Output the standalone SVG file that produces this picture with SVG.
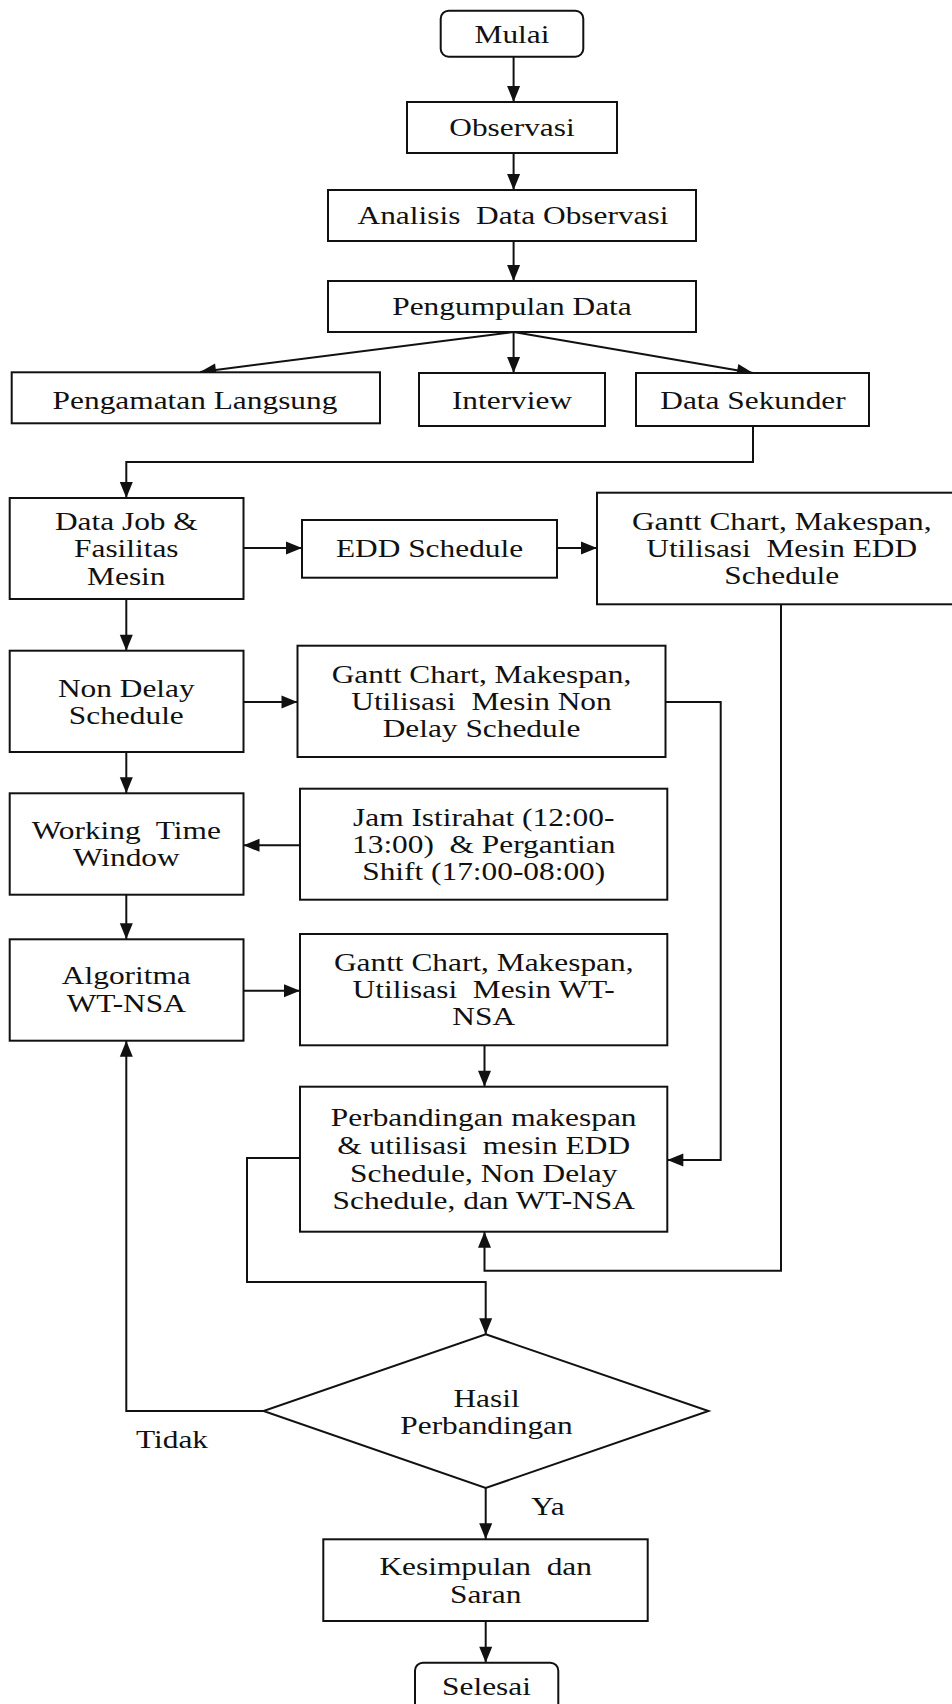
<svg xmlns="http://www.w3.org/2000/svg" width="952" height="1704" viewBox="0 0 952 1704">
<defs>
<style>
.b{fill:#fff;stroke:#111;stroke-width:2}
.c{fill:none;stroke:#111;stroke-width:2}
.t{font-family:"Liberation Serif","Times New Roman",serif;font-size:25.5px;fill:#111;text-anchor:middle;white-space:pre}
</style>
<marker id="a" markerUnits="userSpaceOnUse" markerWidth="18" markerHeight="16" viewBox="0 0 18 16" refX="17" refY="8" orient="auto">
<path d="M1,1.5 L17,8 L1,14.5 Z" fill="#111"/>
</marker>
</defs>
<rect width="952" height="1704" fill="#fff"/>

<g id="connectors">
<path class="c" d="M513.6,56.7 V102" marker-end="url(#a)"/>
<path class="c" d="M513.6,153 V190" marker-end="url(#a)"/>
<path class="c" d="M513.6,241 V281" marker-end="url(#a)"/>
<path class="c" d="M513.6,332 L200,372" marker-end="url(#a)"/>
<path class="c" d="M513.6,332 V373" marker-end="url(#a)"/>
<path class="c" d="M513.6,332 L753,373" marker-end="url(#a)"/>
<path class="c" d="M753,426 V462 H126.3 V498" marker-end="url(#a)"/>
<path class="c" d="M243.5,548 H302" marker-end="url(#a)"/>
<path class="c" d="M557,548 H597" marker-end="url(#a)"/>
<path class="c" d="M126.3,599 V650.7" marker-end="url(#a)"/>
<path class="c" d="M243.5,702 H297.5" marker-end="url(#a)"/>
<path class="c" d="M665.5,702 H720.7 V1160 H667.3" marker-end="url(#a)"/>
<path class="c" d="M126.3,752 V793.3" marker-end="url(#a)"/>
<path class="c" d="M300,845.3 H243.5" marker-end="url(#a)"/>
<path class="c" d="M126.3,894.7 V939.3" marker-end="url(#a)"/>
<path class="c" d="M243.5,990.7 H300" marker-end="url(#a)"/>
<path class="c" d="M484.5,1045.3 V1086.7" marker-end="url(#a)"/>
<path class="c" d="M781,604.3 V1270.7 H484.5 V1231.7" marker-end="url(#a)"/>
<path class="c" d="M300,1158 H247 V1282 H485.7 V1334.3" marker-end="url(#a)"/>
<path class="c" d="M263.5,1411 H126.3 V1040.7" marker-end="url(#a)"/>
<path class="c" d="M485.7,1488 V1539.3" marker-end="url(#a)"/>
<path class="c" d="M485.7,1621 V1662.7" marker-end="url(#a)"/>
<text class="t" transform="translate(172,1448) scale(1.23,1)">Tidak</text>
<text class="t" transform="translate(548,1515) scale(1.23,1)">Ya</text>
</g>

<g id="mulai">
<rect class="b" x="440.7" y="10.7" width="142.6" height="46" rx="8"/>
<text class="t" transform="translate(512,42.7) scale(1.23,1)">Mulai</text>
</g>
<g id="observasi">
<rect class="b" x="407" y="102" width="210" height="51"/>
<text class="t" transform="translate(512,135.5) scale(1.23,1)">Observasi</text>
</g>
<g id="analisis">
<rect class="b" x="328" y="190" width="368" height="51"/>
<text class="t" transform="translate(513,223.5) scale(1.23,1)">Analisis  Data Observasi</text>
</g>
<g id="pengumpulan">
<rect class="b" x="328" y="281" width="368" height="51"/>
<text class="t" transform="translate(512,314.5) scale(1.23,1)">Pengumpulan Data</text>
</g>
<g id="pengamatan">
<rect class="b" x="11.7" y="372.3" width="368.3" height="51"/>
<text class="t" transform="translate(195,408.5) scale(1.23,1)">Pengamatan Langsung</text>
</g>
<g id="interview">
<rect class="b" x="419" y="373" width="186" height="53"/>
<text class="t" transform="translate(512,408.5) scale(1.23,1)">Interview</text>
</g>
<g id="data-sekunder">
<rect class="b" x="636" y="373" width="233" height="53"/>
<text class="t" transform="translate(753,408.5) scale(1.23,1)">Data Sekunder</text>
</g>
<g id="data-job">
<rect class="b" x="9.7" y="498" width="233.8" height="101"/>
<text class="t" transform="translate(126.3,530) scale(1.23,1)"><tspan x="0">Data Job &amp;</tspan><tspan x="0" dy="27.5">Fasilitas</tspan><tspan x="0" dy="27.5">Mesin</tspan></text>
</g>
<g id="edd">
<rect class="b" x="302" y="520" width="255" height="57.7"/>
<text class="t" transform="translate(429.5,557.3) scale(1.23,1)">EDD Schedule</text>
</g>
<g id="gantt-edd">
<rect class="b" x="597" y="492.7" width="369" height="111.6"/>
<text class="t" transform="translate(781.7,530) scale(1.23,1)"><tspan x="0">Gantt Chart, Makespan,</tspan><tspan x="0" dy="27">Utilisasi  Mesin EDD</tspan><tspan x="0" dy="27">Schedule</tspan></text>
</g>
<g id="non-delay">
<rect class="b" x="9.7" y="650.7" width="233.8" height="101.3"/>
<text class="t" transform="translate(126.3,696.5) scale(1.23,1)"><tspan x="0">Non Delay</tspan><tspan x="0" dy="27.5">Schedule</tspan></text>
</g>
<g id="gantt-nd">
<rect class="b" x="297.5" y="645.7" width="368" height="111.3"/>
<text class="t" transform="translate(481.5,682.7) scale(1.23,1)"><tspan x="0">Gantt Chart, Makespan,</tspan><tspan x="0" dy="27">Utilisasi  Mesin Non</tspan><tspan x="0" dy="27">Delay Schedule</tspan></text>
</g>
<g id="wtw">
<rect class="b" x="9.7" y="793.3" width="233.8" height="101.4"/>
<text class="t" transform="translate(126.3,838.5) scale(1.23,1)"><tspan x="0">Working  Time</tspan><tspan x="0" dy="28">Window</tspan></text>
</g>
<g id="jam">
<rect class="b" x="300" y="788.7" width="367.3" height="111"/>
<text class="t" transform="translate(483.7,825.5) scale(1.23,1)"><tspan x="0">Jam Istirahat (12:00-</tspan><tspan x="0" dy="27.5">13:00)  &amp; Pergantian</tspan><tspan x="0" dy="27.5">Shift (17:00-08:00)</tspan></text>
</g>
<g id="algoritma">
<rect class="b" x="9.7" y="939.3" width="233.8" height="101.4"/>
<text class="t" transform="translate(126.3,984) scale(1.23,1)"><tspan x="0">Algoritma</tspan><tspan x="0" dy="28">WT-NSA</tspan></text>
</g>
<g id="gantt-wt">
<rect class="b" x="300" y="934" width="367.3" height="111.3"/>
<text class="t" transform="translate(483.7,970.5) scale(1.23,1)"><tspan x="0">Gantt Chart, Makespan,</tspan><tspan x="0" dy="27.5">Utilisasi  Mesin WT-</tspan><tspan x="0" dy="27">NSA</tspan></text>
</g>
<g id="perbandingan">
<rect class="b" x="300" y="1086.7" width="367.3" height="145"/>
<text class="t" transform="translate(483.7,1126) scale(1.23,1)"><tspan x="0">Perbandingan makespan</tspan><tspan x="0" dy="27.8">&amp; utilisasi  mesin EDD</tspan><tspan x="0" dy="27.8">Schedule, Non Delay</tspan><tspan x="0" dy="27.8">Schedule, dan WT-NSA</tspan></text>
</g>
<g id="hasil">
<polygon class="b" points="485.7,1334.3 708.5,1411 485.7,1488 263.5,1411"/>
<text class="t" transform="translate(486.5,1406.7) scale(1.23,1)"><tspan x="0">Hasil</tspan><tspan x="0" dy="27.5">Perbandingan</tspan></text>
</g>
<g id="kesimpulan">
<rect class="b" x="323.3" y="1539.3" width="324.4" height="81.7"/>
<text class="t" transform="translate(485.7,1575) scale(1.23,1)"><tspan x="0">Kesimpulan  dan</tspan><tspan x="0" dy="28.3">Saran</tspan></text>
</g>
<g id="selesai">
<rect class="b" x="415" y="1662.7" width="143.3" height="60" rx="8"/>
<text class="t" transform="translate(486.5,1695) scale(1.23,1)">Selesai</text>
</g>
</svg>
